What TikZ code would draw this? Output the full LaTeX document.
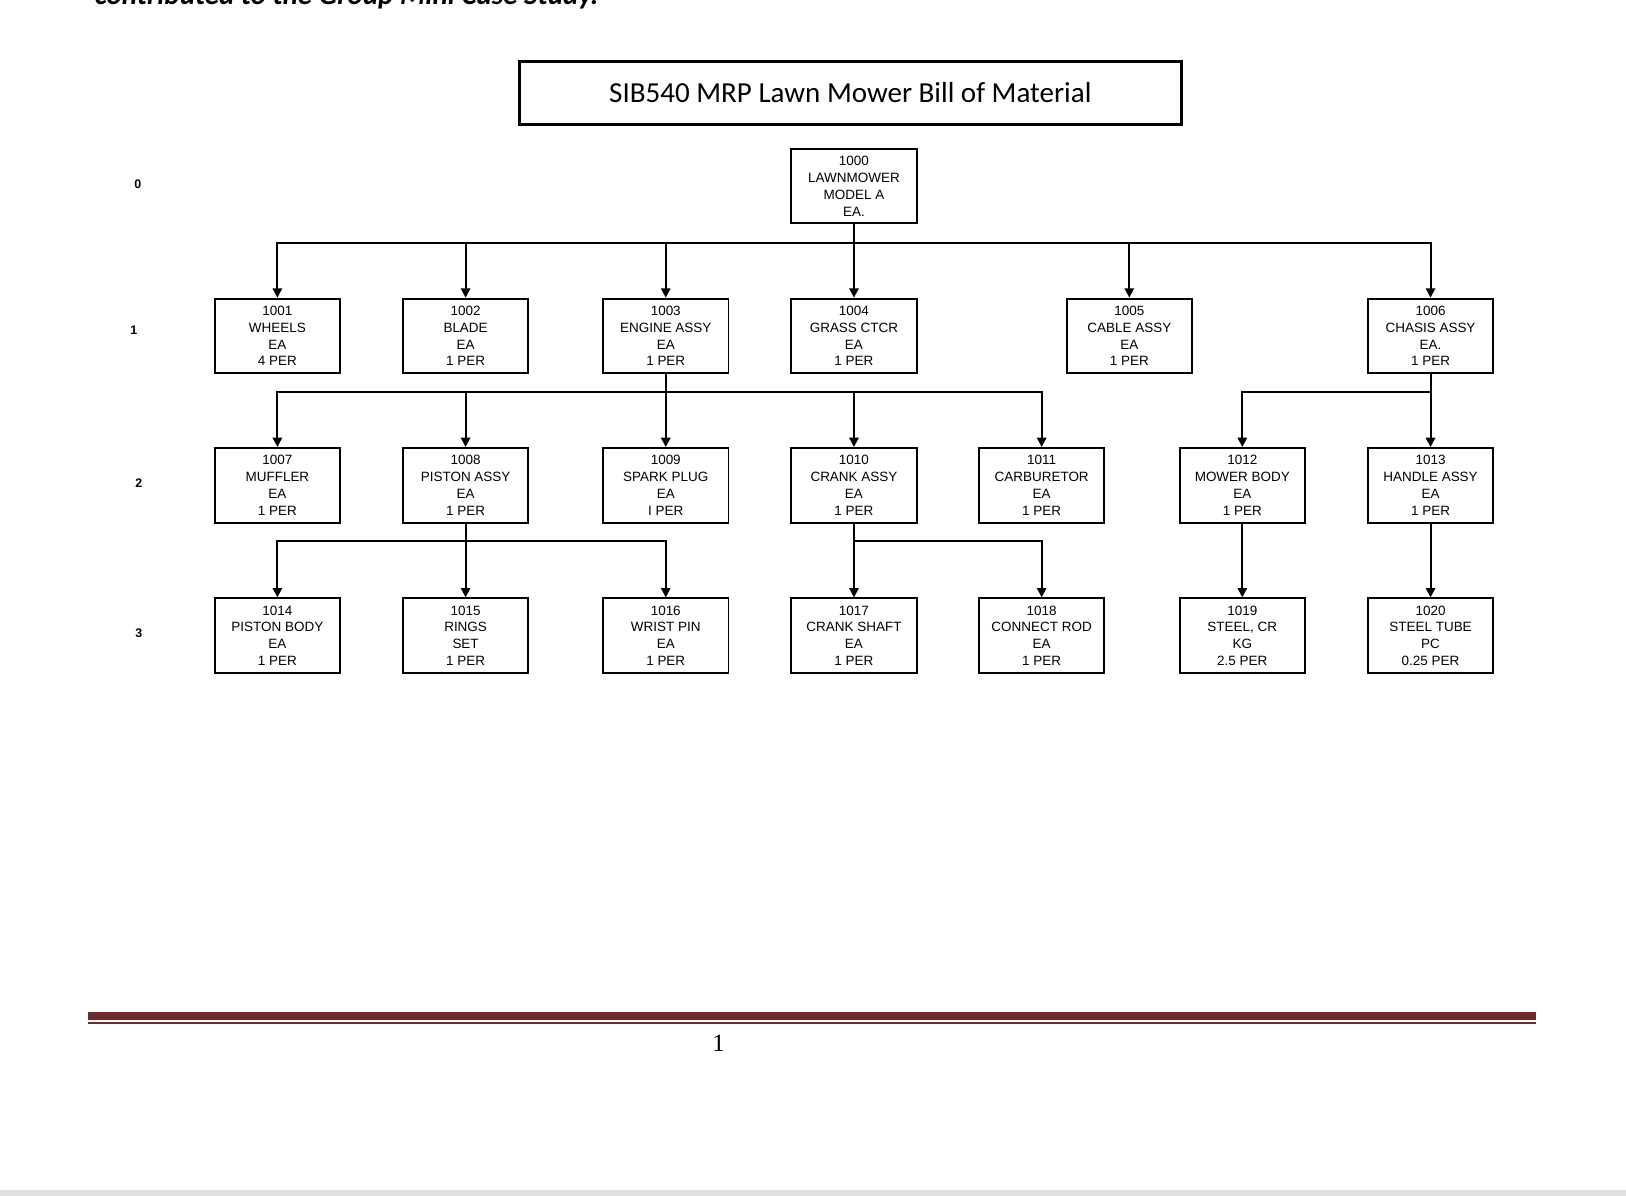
\documentclass[tikz,border=0pt]{standalone}
\usepackage{fontspec}
\setmainfont{Liberation Sans}
\newfontfamily\calib{Carlito}
\newfontfamily\serifc{Liberation Serif}
\usetikzlibrary{arrows.meta}
\definecolor{footred}{HTML}{6E2B2B}
\begin{document}
\begin{tikzpicture}[x=1pt,y=-1pt,
  box/.style={draw,line width=1.9pt,minimum width=121pt,minimum height=72pt,inner sep=0pt,align=center,font=\fontsize{13}{16.2}\selectfont},
  arr/.style={line width=1.9pt,-{Triangle[width=9pt,length=9pt]}},
  lvl/.style={font=\fontsize{12}{14}\selectfont\bfseries}]
\useasboundingbox (0,0) rectangle (1568,1153);
\clip (0,0) rectangle (1568,1153);
\node[anchor=base west,font=\calib\fontsize{28}{30}\selectfont\bfseries\itshape] (top) at (88,4) {contributed to the Group Mini Case Study.};
\node[draw,line width=3pt,minimum width=638pt,minimum height=61pt,font=\calib\fontsize{28}{32}\selectfont] (title) at (820,89.5) {SIB540 MRP Lawn Mower Bill of Material};
\node[lvl] (l0) at (133,178) {0};
\node[lvl] (l1) at (129,318) {1};
\node[lvl] (l2) at (134,466) {2};
\node[lvl] (l3) at (134,611) {3};
\node[box] (n1000) at (823.5,179.5) {1000\\LAWNMOWER\\MODEL A\\EA.};
\node[box] (n1001) at (267.5,324) {1001\\WHEELS\\EA\\4 PER};
\node[box] (n1002) at (449,324) {1002\\BLADE\\EA\\1 PER};
\node[box] (n1003) at (642,324) {1003\\ENGINE ASSY\\EA\\1 PER};
\node[box] (n1004) at (823.5,324) {1004\\GRASS CTCR\\EA\\1 PER};
\node[box] (n1005) at (1089,324) {1005\\CABLE ASSY\\EA\\1 PER};
\node[box] (n1006) at (1379.5,324) {1006\\CHASIS ASSY\\EA.\\1 PER};
\node[box] (n1007) at (267.5,468) {1007\\MUFFLER\\EA\\1 PER};
\node[box] (n1008) at (449,468) {1008\\PISTON ASSY\\EA\\1 PER};
\node[box] (n1009) at (642,468) {1009\\SPARK PLUG\\EA\\I PER};
\node[box] (n1010) at (823.5,468) {1010\\CRANK ASSY\\EA\\1 PER};
\node[box] (n1011) at (1004.5,468) {1011\\CARBURETOR\\EA\\1 PER};
\node[box] (n1012) at (1198,468) {1012\\MOWER BODY\\EA\\1 PER};
\node[box] (n1013) at (1379.5,468) {1013\\HANDLE ASSY\\EA\\1 PER};
\node[box] (n1014) at (267.5,613) {1014\\PISTON BODY\\EA\\1 PER};
\node[box] (n1015) at (449,613) {1015\\RINGS\\SET\\1 PER};
\node[box] (n1016) at (642,613) {1016\\WRIST PIN\\EA\\1 PER};
\node[box] (n1017) at (823.5,613) {1017\\CRANK SHAFT\\EA\\1 PER};
\node[box] (n1018) at (1004.5,613) {1018\\CONNECT ROD\\EA\\1 PER};
\node[box] (n1019) at (1198,613) {1019\\STEEL, CR\\KG\\2.5 PER};
\node[box] (n1020) at (1379.5,613) {1020\\STEEL TUBE\\PC\\0.25 PER};
\coordinate (b0) at (0,234);
\coordinate (b1) at (0,378);
\coordinate (b2) at (0,522);
\foreach \c in {1001,1002,1003,1004,1005,1006}
  \draw[arr] (n1000.south) |- (n\c.north |- b0) -- (n\c.north);
\foreach \c in {1007,1008,1009,1010,1011}
  \draw[arr] (n1003.south) |- (n\c.north |- b1) -- (n\c.north);
\foreach \c in {1012,1013}
  \draw[arr] (n1006.south) |- (n\c.north |- b1) -- (n\c.north);
\foreach \c in {1014,1015,1016}
  \draw[arr] (n1008.south) |- (n\c.north |- b2) -- (n\c.north);
\foreach \c in {1017,1018}
  \draw[arr] (n1010.south) |- (n\c.north |- b2) -- (n\c.north);
\draw[arr] (n1012.south) -- (n1019.north);
\draw[arr] (n1013.south) -- (n1020.north);
\fill[footred] (85,976) rectangle (1481,983.5);
\fill[footred] (85,986) rectangle (1481,987.5);
\node[font=\serifc\fontsize{24}{28}\selectfont] (pg) at (693,1006) {1};
\fill[black!12] (0,1148) rectangle (1568,1153);
\end{tikzpicture}
\end{document}
